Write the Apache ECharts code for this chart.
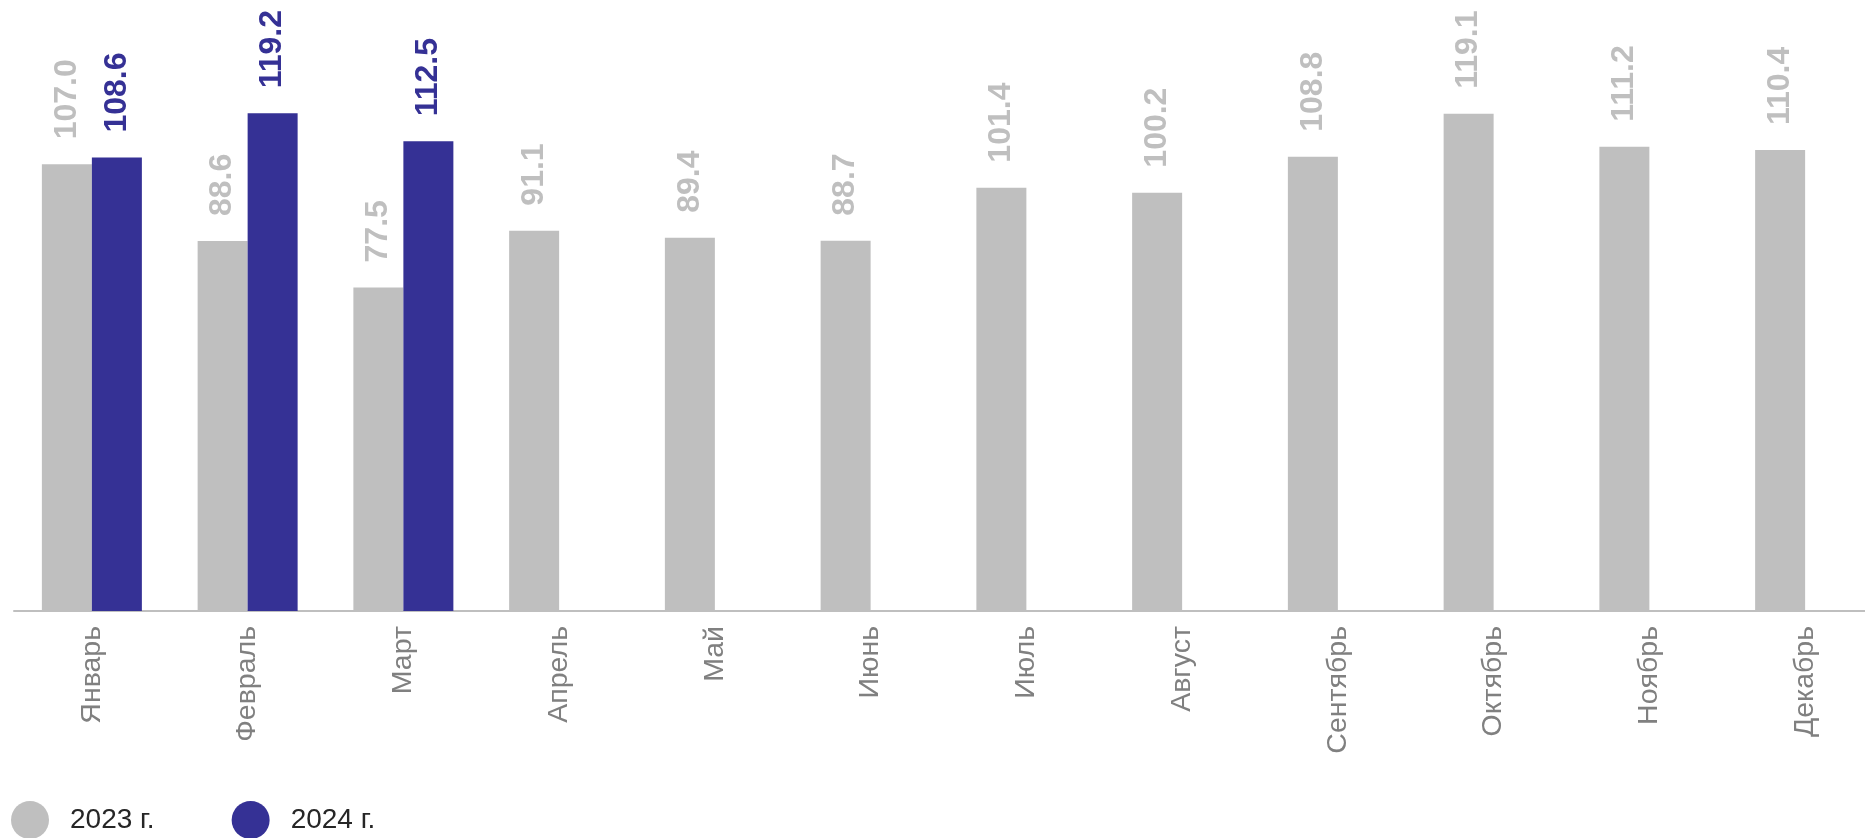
<!DOCTYPE html>
<html>
<head>
<meta charset="utf-8">
<script src="https://cdn.jsdelivr.net/npm/echarts@6/dist/echarts.min.js"></script>
<style>
html,body{margin:0;padding:0;background:#fff;}
#c{width:1865px;height:838px;}
</style>
</head>
<body>
<div id="c"></div>
<script>
var categories = ['Январь','Февраль','Март','Апрель','Май','Июнь','Июль','Август','Сентябрь','Октябрь','Ноябрь','Декабрь'];
var values2023 = [107.0, 88.6, 77.5, 91.1, 89.4, 88.7, 101.4, 100.2, 108.8, 119.1, 111.2, 110.4];
var values2024 = [108.6, 119.2, 112.5, null, null, null, null, null, null, null, null, null];
var seriesNames = ['2023 г.', '2024 г.'];

var GRAY = '#BFBFBF', BLUE = '#353195';
var FONT = '"Liberation Sans", Arial, sans-serif';

var chart = echarts.init(document.getElementById('c'));
function lbl(color){
  return {
    show: true, position: 'top', rotate: 90, align: 'left', verticalAlign: 'middle',
    distance: 25, color: color, fontSize: 32, fontWeight: 'bold', fontFamily: FONT,
    formatter: function(p){ return p.value == null ? '' : p.value.toFixed(1); }
  };
}
chart.setOption({
  animation: false,
  grid: {left: 14, width: 1869, top: 26.5, bottom: 227, containLabel: false, outerBoundsMode: 'none'},
  legend: {
    left: 6, top: 796, itemWidth: 38, itemHeight: 38, itemGap: 77, icon: 'circle',
    textStyle: {fontSize: 28, color: '#262626', fontFamily: FONT, padding: [0,0,0,16]},
    data: seriesNames
  },
  xAxis: {
    type: 'category', data: categories,
    axisLine: {lineStyle: {color: GRAY, width: 2}},
    axisTick: {show: false},
    axisLabel: {rotate: 90, margin: 15, color: '#808080', fontSize: 28.5, fontFamily: FONT, interval: 0}
  },
  yAxis: {type: 'value', min: 0, max: 140, show: false, splitLine: {show: false}},
  series: [
    {name: seriesNames[0], type: 'bar', data: values2023, barWidth: 50, barGap: '0%',
     itemStyle: {color: GRAY}, label: lbl(GRAY)},
    {name: seriesNames[1], type: 'bar', data: values2024, barWidth: 50, barGap: '0%',
     itemStyle: {color: BLUE}, label: lbl(BLUE)}
  ]
});
</script>
</body>
</html>
